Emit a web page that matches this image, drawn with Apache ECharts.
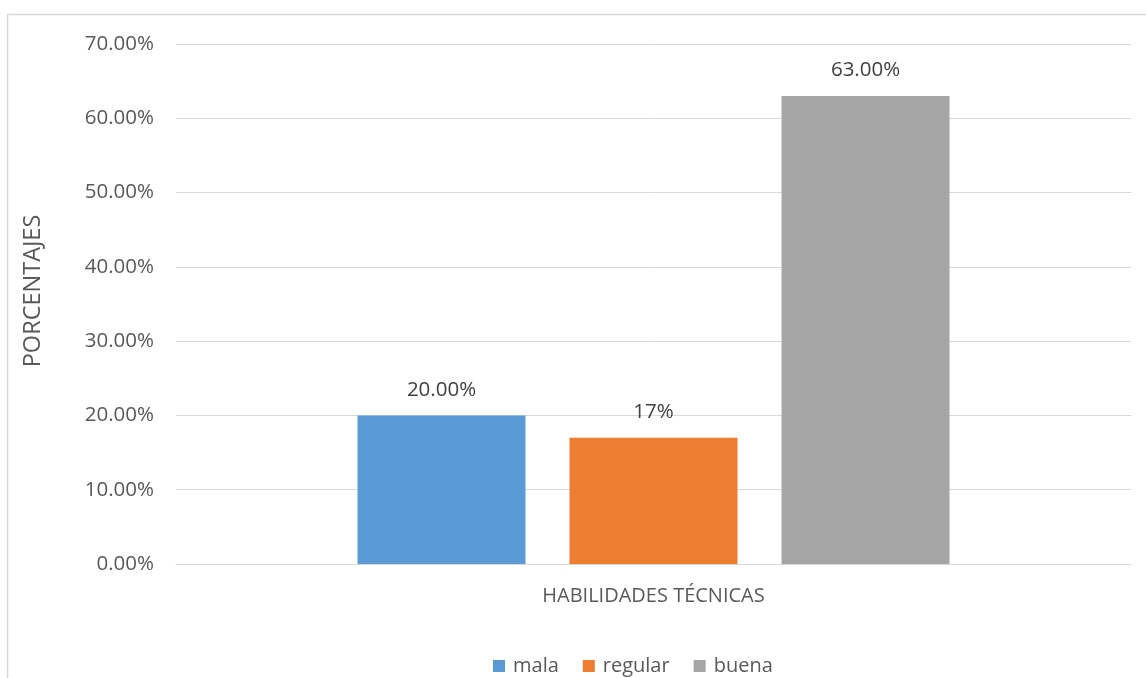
<!DOCTYPE html>
<html>
<head>
<meta charset="utf-8">
<script src="https://cdn.jsdelivr.net/npm/echarts@6/dist/echarts.min.js"></script>
<style>
  html, body { margin: 0; padding: 0; background: #fff; }
  #chart { width: 1146px; height: 678px; }
</style>
</head>
<body>
<div id="chart"></div>
<script>
// Percent values per rating level
const categories = ['HABILIDADES TÉCNICAS'];
const seriesNames = ['mala', 'regular', 'buena'];
const mala = [20];
const regular = [17];
const buena = [63];
const valueLabels = ['20.00%', '17%', '63.00%'];
const yTicks = [0, 10, 20, 30, 40, 50, 60, 70];

const colors = ['#5b9bd5', '#ed7d31', '#a5a5a5'];
const font = '"Open Sans", "Noto Sans", sans-serif';

const chart = echarts.init(document.getElementById('chart'), null, { renderer: 'canvas' });

function barSeries(name, data, idx) {
  return {
    name: name,
    type: 'bar',
    data: data,
    barWidth: 168,
    barGap: '26.2%',
    itemStyle: { color: colors[idx] },
    label: {
      show: true,
      position: 'top',
      distance: 15,
      formatter: () => valueLabels[idx],
      fontFamily: font,
      fontSize: 20.5,
      color: '#404040'
    }
  };
}

chart.setOption({
  animation: false,
  backgroundColor: '#fff',
  graphic: [{
    type: 'rect',
    shape: { x: 7.5, y: 14.5, width: 1200, height: 700 },
    style: { fill: 'none', stroke: '#d9d9d9', lineWidth: 1.5 },
    silent: true,
    z: -1
  }],
  grid: { left: 176, right: 15, top: 44, bottom: 114, containLabel: false },
  legend: {
    data: seriesNames,
    top: 651,
    left: 488,
    itemWidth: 12,
    itemHeight: 12,
    itemGap: 24,
    icon: 'rect',
    textStyle: { fontFamily: font, fontSize: 20, color: '#595959', padding: [0, 0, 0, 3] }
  },
  xAxis: {
    type: 'category',
    data: categories,
    axisLine: { lineStyle: { color: '#d9d9d9', width: 1 } },
    axisTick: { show: false },
    axisLabel: { margin: 22, fontFamily: font, fontSize: 20, color: '#595959' }
  },
  yAxis: {
    type: 'value',
    min: yTicks[0],
    max: yTicks[yTicks.length - 1],
    interval: 10,
    name: 'PORCENTAJES',
    nameLocation: 'middle',
    nameGap: 131,
    nameRotate: 90,
    nameTextStyle: { fontFamily: font, fontSize: 23.5, color: '#595959', padding: [0, 0, 0, 26] },
    axisLine: { show: false },
    axisTick: { show: false },
    splitLine: { lineStyle: { color: '#d9d9d9', width: 1 } },
    axisLabel: {
      margin: 22,
      fontFamily: font,
      fontSize: 20.5,
      color: '#595959',
      formatter: v => v.toFixed(2) + '%'
    }
  },
  series: [
    barSeries(seriesNames[0], mala, 0),
    barSeries(seriesNames[1], regular, 1),
    barSeries(seriesNames[2], buena, 2)
  ]
});
</script>
</body>
</html>
